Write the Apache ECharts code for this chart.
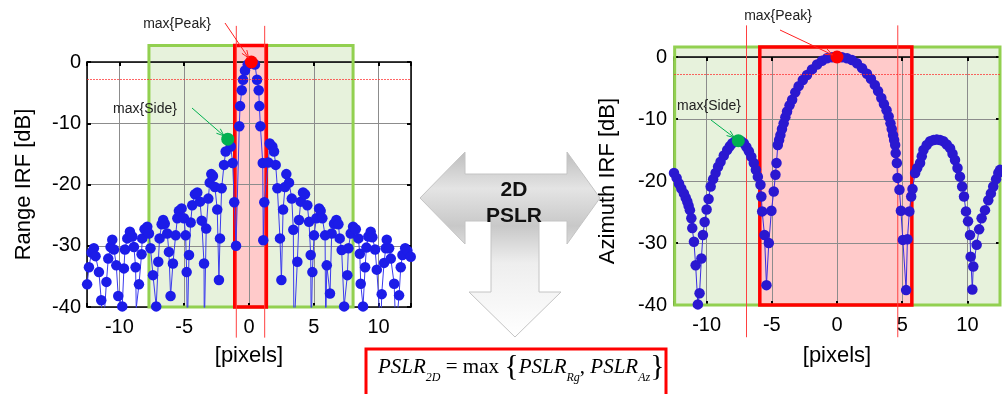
<!DOCTYPE html>
<html>
<head>
<meta charset="utf-8" />
<title>2D PSLR</title>
<script src="https://cdn.jsdelivr.net/npm/echarts@6/dist/echarts.min.js"></script>
<style>
    html, body { margin: 0; padding: 0; background: #ffffff; }
    #chart { width: 1002px; height: 394px; }
</style>
</head>
<body>
<div id="chart"></div>
<script type="text/javascript">
    // ---- range cut (left plot) ----
    var rangeX = [-12.49, -12.35, -12.15, -11.97, -11.84, -11.58, -11.4, -11.25, -11.0, -10.86, -10.68, -10.55, -10.42,
        -10.24, -10.09, -9.78, -9.65, -9.57, -9.39, -9.19, -9.0, -8.88, -8.75, -8.7, -8.49, -8.29, -8.24, -8.06,
        -7.85, -7.72, -7.6, -7.41, -7.16, -7.0, -6.9, -6.74, -6.62, -6.5, -6.31, -6.18, -6.05, -5.87, -5.66, -5.53,
        -5.41, -5.2, -5.02, -4.89, -4.81, -4.76, -4.63, -4.5, -4.38, -4.17, -3.99, -3.78, -3.65, -3.47, -3.45, -3.3,
        -3.14, -3.03, -2.91, -2.78, -2.63, -2.45, -2.32, -2.24, -2.11, -1.93, -1.8, -1.64, -1.41, -1.26, -1.14, -1.0,
        -0.75, -0.69, -0.56, -0.46, -0.31, -0.1, 0.15, 0.46, 0.62, 0.75, 0.8, 0.88, 1.06, 1.1, 1.18,
        1.49, 1.6, 1.8, 1.93, 2.06, 2.19, 2.39, 2.5, 2.63, 2.78, 2.88, 3.09, 3.3, 3.42, 3.47, 3.73, 3.86, 3.99,
        4.17, 4.32, 4.5, 4.63, 4.76, 4.8, 4.89, 5.02, 5.2, 5.41, 5.53, 5.66, 5.87, 5.92, 6.0, 6.25, 6.38, 6.56,
        6.74, 6.9, 7.0, 7.15, 7.34, 7.59, 7.67, 7.85, 8.03, 8.24, 8.44, 8.55, 8.62, 8.8, 8.96, 9.06, 9.21, 9.39,
        9.52, 9.73, 9.86, 10.17, 10.24, 10.42, 10.55, 10.63, 10.81, 10.94, 11.2, 11.33, 11.58, 11.71, 11.84, 12.05,
        12.22, 12.48];
    var rangeY = [-36.3, -33.5, -31.1, -30.4, -31.7, -34.3, -38.9, -44, -35.9, -32.1, -30.2, -29.0, -30.6,
        -33.2, -38.2, -39.9, -33.7, -30.6, -28.8, -27.7, -28.5, -30.2, -33.5, -40.2, -36.3, -31.4, -28.8, -27.3,
        -26.9, -28.0, -30.4, -34.8, -39.9, -32.6, -28.8, -26.5, -25.8, -26.4, -28.0, -31.0, -38.2, -32.9, -28.3, -25.5,
        -24.3, -23.9, -25.5, -28.3, -34.3, -44, -31.5, -26.2, -23.4, -21.6, -21.3, -22.8, -25.9, -32.9, -44, -27.2,
        -22.3, -19.7, -18.3, -18.6, -20.4, -24.1, -35.6, -28.8, -20.6, -16.8, -14.6, -12.6, -13.8, -16.5, -22.9, -30.0,
        -10.5, -7.2, -4.6, -2.9, -1.4, -0.4, 0, -0.4, -2.9, -4.6, -7.2, -10.5, -16.5, -29.1, -22.9,
        -16.4, -13.3, -13.8, -14.6, -16.8, -20.6, -28.8, -35.6, -24.1, -20.4, -18.3, -19.7, -22.3, -27.4, -44, -32.6, -25.8, -22.8,
        -21.3, -21.6, -23.4, -26.1, -31.5, -44, -34.3, -28.3, -25.5, -23.9, -24.3, -25.5, -28.3, -44, -33.2, -37.8, -28.0, -26.4,
        -25.8, -26.5, -28.8, -30.7, -39.9, -34.8, -30.4, -28.0, -26.9, -27.3, -28.8, -31.3, -36.2, -39.9, -33.5, -30.3, -28.5, -27.7,
        -28.6, -30.6, -33.9, -44, -37.9, -32.8, -30.4, -29.0, -30.4, -32.1, -36.2, -44, -38.1, -33.5, -31.5, -30.4,
        -30.8, -31.8];

    // ---- azimuth cut (right plot) ----
    var azX = [-12.5, -12.3, -12.12, -11.94, -11.74, -11.6, -11.48, -11.38, -11.28, -11.17, -11.1, -10.97, -10.84,
        -10.67, -10.54, -10.4, -10.28, -10.15, -10.0, -9.85, -9.69, -9.5, -9.31, -9.12, -8.93, -8.68, -8.42, -8.22,
        -8.03, -7.8, -7.57, -7.35, -7.14, -6.95, -6.76, -6.57, -6.38, -6.22, -6.07, -5.87, -5.8, -5.74, -5.56, -5.41,
        -5.23, -5.03, -4.85, -4.72, -4.64, -4.54, -4.44, -4.34, -4.22, -4.09, -3.96, -3.83, -3.64, -3.44, -3.2, -2.94,
        -2.62, -2.3, -1.92, -1.53, -1.15, -0.77, -0.38, 0, 0.38, 0.77, 1.15, 1.53, 1.92, 2.3, 2.6, 2.9, 3.15, 3.4,
        3.6, 3.8, 3.96, 4.1, 4.2, 4.3, 4.38, 4.46, 4.5, 4.59, 4.64, 4.79, 4.9, 5.05, 5.3, 5.4, 5.55, 5.69, 5.79, 5.99,
        6.15, 6.37, 6.5, 6.63, 6.88, 7.14, 7.4, 7.65, 7.9, 8.16, 8.42, 8.67, 8.86, 9.05, 9.24, 9.43, 9.6, 9.74, 9.89,
        10.05, 10.2, 10.25, 10.38, 10.45, 10.71, 10.9, 11.09, 11.35, 11.6, 11.8, 11.98, 12.2, 12.37, 12.5];
    var azY = [-18.7, -19.5, -20.4, -21.2, -22.0, -22.7, -23.3, -24.0, -24.7, -26.0, -27.6, -29.8, -33.6,
        -39.9, -38.1, -32.5, -28.7, -26.6, -24.6, -22.9, -20.9, -19.7, -18.7, -17.7, -16.9, -15.9, -15.0, -14.4,
        -13.9, -13.6, -13.5, -13.6, -13.9, -14.5, -15.2, -16.1, -17.1, -18.2, -19.3, -20.6, -22.5, -24.9, -28.7, -36.8,
        -30.0, -24.8, -21.7, -19.0, -17.1, -14.2, -13.4, -12.6, -11.6, -10.7, -9.7, -8.8, -7.8, -6.9, -5.7, -4.7,
        -3.7, -2.9, -2.0, -1.2, -0.6, -0.2, -0.05, 0, -0.05, -0.2, -0.5, -1.0, -1.8, -2.7, -3.5, -4.5, -5.5, -6.6,
        -7.6, -8.6, -9.6, -10.7, -11.6, -12.6, -13.4, -14.2, -15.5, -17.1, -19.5, -21.4, -24.8, -29.5, -37.6, -29.4, -24.9, -22.5, -21.3, -18.7,
        -17.9, -17.1, -16.0, -15.0, -14.2, -13.6, -13.4, -13.3, -13.4, -13.6, -14.1, -14.7, -15.6, -16.6, -17.9, -19.3, -20.9, -22.5, -24.9,
        -26.5, -28.7, -32.2, -37.5, -33.8, -30.3, -27.8, -26.0, -24.7, -23.1, -22.0, -20.9, -19.7, -18.7, -18.2];

    // markers and regions (data units)
    var rangePeak = [0.18, 0];
    var rangeSide = [-1.64, -12.6];
    var rangeSideZone = [-7.72, 8.03];
    var rangeMainZone = [-1.1, 1.34];
    var rangeZoneTop = 2.7;
    var rangeCuts = [-0.98, 1.21];
    var rangeCutSpan = [5.9, -45];

    var azPeak = [0, 0];
    var azSide = [-7.57, -13.5];
    var azSideZone = [-12.45, 12.5];
    var azMainZone = [-5.92, 5.74];
    var azZoneTop = 1.6;
    var azCuts = [-6.94, 4.66];
    var azCutSpan = [5.1, -45.2];

    var halfPower = -2.8;
    var xTicks = [-10, -5, 0, 5, 10];

    var SANS = "'Liberation Sans', Arial, sans-serif";
    var SERIF = "'Liberation Serif', 'Times New Roman', serif";

    function zip(xs, ys) {
        var out = [];
        for (var i = 0; i < xs.length; i++) out.push([xs[i], ys[i]]);
        return out;
    }

    function xAxisFor(grid, pos, gap) {
        var main = pos === 'bottom';
        return {
            type: 'value', gridIndex: grid, position: pos, min: -12.5, max: 12.5, splitNumber: 5,
            axisLine: {show: true, onZero: false, lineStyle: {color: '#000', width: 1.5}},
            axisTick: {show: true, inside: true, length: 4, lineStyle: {color: '#000', width: 2}},
            axisLabel: {
                show: main, color: '#000', fontSize: 20, fontFamily: SANS, margin: 10,
                formatter: function (v) { return xTicks.indexOf(v) >= 0 ? String(v) : ''; }
            },
            splitLine: {show: main, lineStyle: {color: '#8c8c8c', width: 1}},
            name: main ? '[pixels]' : '', nameLocation: 'middle', nameGap: gap,
            nameTextStyle: {color: '#000', fontSize: 22, fontFamily: SANS}
        };
    }

    function yAxisFor(grid, pos, name, gap, margin) {
        var main = pos === 'left';
        return {
            type: 'value', gridIndex: grid, position: pos, min: -40, max: 0, interval: 10,
            axisLine: {show: true, onZero: false, lineStyle: {color: '#000', width: 1.5}},
            axisTick: {show: true, inside: true, length: 4, lineStyle: {color: '#000', width: 2}},
            axisLabel: {show: main, color: '#000', fontSize: 20, fontFamily: SANS, margin: margin},
            splitLine: {show: main, lineStyle: {color: '#8c8c8c', width: 1}},
            name: main ? name : '', nameLocation: 'middle', nameGap: gap, nameRotate: 90,
            nameTextStyle: {color: '#000', fontSize: 22, fontFamily: SANS}
        };
    }

    function zoneSeries(ax, sideZone, mainZone, top, filled) {
        return {
            type: 'custom', xAxisIndex: ax, yAxisIndex: ax, z: filled ? -1 : 1, silent: true, clip: false,
            encode: {x: [0, 1], y: [2, 3]},
            data: [[sideZone[0], sideZone[1], -40, top], [mainZone[0], mainZone[1], -40, top]],
            renderItem: function (params, api) {
                var a = api.coord([api.value(0), api.value(3)]);
                var b = api.coord([api.value(1), api.value(2)]);
                var green = params.dataIndex === 0;
                var style = filled
                    ? {fill: green ? '#e7f2dc' : '#ffcaca'}
                    : {fill: 'none', stroke: green ? '#92d050' : '#ff0000', lineWidth: green ? 3 : 3.5};
                return {type: 'rect', shape: {x: a[0], y: a[1], width: b[0] - a[0], height: b[1] - a[1]}, style: style};
            }
        };
    }

    function cutSeries(ax, cuts, span) {
        return {
            type: 'custom', xAxisIndex: ax, yAxisIndex: ax, z: 1, silent: true, clip: false,
            encode: {x: 0, y: [1, 2]},
            data: cuts.map(function (c) { return [c, span[0], span[1]]; }),
            renderItem: function (params, api) {
                var a = api.coord([api.value(0), api.value(1)]);
                var b = api.coord([api.value(0), api.value(2)]);
                return {type: 'line', shape: {x1: a[0], y1: a[1], x2: b[0], y2: b[1]},
                    style: {stroke: '#ff4040', lineWidth: 1}};
            }
        };
    }

    function curveSeries(ax, xs, ys, dot, line) {
        return {
            type: 'line', xAxisIndex: ax, yAxisIndex: ax, z: 2, silent: true,
            data: zip(xs, ys), symbol: 'circle', symbolSize: 10.5, showSymbol: true, showAllSymbol: true,
            itemStyle: {color: dot}, lineStyle: {color: line, width: 1},
            markLine: {
                silent: true, symbol: 'none', label: {show: false},
                lineStyle: {color: '#ff2a2a', type: [2, 1], width: 0.8, opacity: 0.9},
                data: [{yAxis: halfPower}]
            }
        };
    }

    function markerSeries(ax, pt, color) {
        return {
            type: 'scatter', xAxisIndex: ax, yAxisIndex: ax, z: 5, silent: true,
            data: [pt], symbolSize: 13, itemStyle: {color: color, opacity: 1}
        };
    }

    var myChart = echarts.init(document.getElementById('chart'), null, {renderer: 'canvas'});
    var option = {
        animation: false,
        backgroundColor: '#ffffff',
        grid: [
            {left: 87, top: 62, width: 324, height: 245, containLabel: false, outerBoundsMode: 'none'},
            {left: 674, top: 57, width: 326, height: 248, containLabel: false, outerBoundsMode: 'none'}
        ],
        xAxis: [xAxisFor(0, 'bottom', 38), xAxisFor(1, 'bottom', 40), xAxisFor(0, 'top', 0), xAxisFor(1, 'top', 0)],
        yAxis: [yAxisFor(0, 'left', 'Range IRF [dB]', 52, 6), yAxisFor(1, 'left', 'Azimuth IRF [dB]', 55, 7),
            yAxisFor(0, 'right', '', 0, 0), yAxisFor(1, 'right', '', 0, 0)],
        series: [
            zoneSeries(0, rangeSideZone, rangeMainZone, rangeZoneTop, true),
            zoneSeries(0, rangeSideZone, rangeMainZone, rangeZoneTop, false),
            cutSeries(0, rangeCuts, rangeCutSpan),
            curveSeries(0, rangeX, rangeY, '#1c1ce8', '#3a3aee'),
            markerSeries(0, rangeSide, '#00b050'),
            markerSeries(0, rangePeak, '#ff0000'),
            zoneSeries(1, azSideZone, azMainZone, azZoneTop, true),
            zoneSeries(1, azSideZone, azMainZone, azZoneTop, false),
            cutSeries(1, azCuts, azCutSpan),
            curveSeries(1, azX, azY, '#2a18d0', '#3a2ae0'),
            markerSeries(1, azSide, '#00b050'),
            markerSeries(1, azPeak, '#ff0000')
        ]
    };
    myChart.setOption(option);

    // annotations: arrows from the label to the marker, using the chart's own scales
    function arrow(x1, y1, target, color) {
        var ang = Math.atan2(target[1] - y1, target[0] - x1);
        var x2 = target[0] - 5 * Math.cos(ang), y2 = target[1] - 5 * Math.sin(ang);
        var h = 8, w = 0.38;
        return [
            {type: 'line', silent: true, z: 20, shape: {x1: x1, y1: y1, x2: x2, y2: y2}, style: {stroke: color, lineWidth: 1}},
            {type: 'polyline', silent: true, z: 20, shape: {points: [
                [x2 - h * Math.cos(ang - w), y2 - h * Math.sin(ang - w)], [x2, y2],
                [x2 - h * Math.cos(ang + w), y2 - h * Math.sin(ang + w)]]},
                style: {stroke: color, lineWidth: 1, fill: null}}
        ];
    }
    function label(x, y, txt) {
        return {type: 'text', silent: true, z: 20, x: x, y: y,
            style: {text: txt, fontSize: 14, fontFamily: SANS, fill: '#222', align: 'center', verticalAlign: 'middle'}};
    }

    var pL = myChart.convertToPixel({gridIndex: 0}, rangePeak);
    var sL = myChart.convertToPixel({gridIndex: 0}, rangeSide);
    var pR = myChart.convertToPixel({gridIndex: 1}, azPeak);
    var sR = myChart.convertToPixel({gridIndex: 1}, azSide);

    var elements = [];
    elements.push(label(177, 24, 'max{Peak}'), label(145, 109, 'max{Side}'),
        label(778, 16, 'max{Peak}'), label(709, 106, 'max{Side}'));
    elements = elements.concat(arrow(225, 23, pL, '#ff2020'), arrow(192, 108, sL, '#00b050'),
        arrow(780, 30, pR, '#ff2020'), arrow(711, 120, sR, '#00b050'));

    // central three-way arrow
    elements.push({
        type: 'polygon', silent: true, z: 10,
        shape: {points: [[420, 198], [465, 152], [465, 174], [567, 174], [567, 152], [600, 198], [567, 244], [567, 221],
            [539, 221], [539, 292], [561, 292], [515, 337], [469, 292], [491, 292], [491, 221], [465, 221], [465, 244]]},
        style: {
            fill: new echarts.graphic.LinearGradient(0, 0, 0, 1, [
                {offset: 0, color: '#bdbdbd'}, {offset: 0.2, color: '#e4e4e4'}, {offset: 0.4, color: '#c8c8c8'},
                {offset: 0.6, color: '#eeeeee'}, {offset: 1, color: '#ffffff'}]),
            stroke: '#c4c4c4', lineWidth: 1
        }
    });
    elements.push({type: 'text', silent: true, z: 11, x: 514, y: 190,
        style: {text: '2D', fontSize: 21, fontWeight: 'bold', fontFamily: SANS, fill: '#111', align: 'center', verticalAlign: 'middle'}});
    elements.push({type: 'text', silent: true, z: 11, x: 514, y: 216,
        style: {text: 'PSLR', fontSize: 21, fontWeight: 'bold', fontFamily: SANS, fill: '#111', align: 'center', verticalAlign: 'middle'}});

    // formula box
    elements.push({type: 'rect', silent: true, z: 10, shape: {x: 366, y: 349, width: 300, height: 60},
        style: {fill: '#ffffff', stroke: '#ff0000', lineWidth: 3}});
    elements.push({
        type: 'text', silent: true, z: 11, x: 378, y: 367,
        style: {
            text: '{i|PSLR}{s|2D}{n| = max }{' + '{i|PSLR}{s|Rg}{n|, }{i|PSLR}{s|Az}}',
            fontSize: 30, fontFamily: SERIF, fill: '#000', lineHeight: 34, align: 'left', verticalAlign: 'middle',
            rich: {
                i: {fontSize: 21, fontStyle: 'italic', fontFamily: SERIF, lineHeight: 34},
                n: {fontSize: 21, fontFamily: SERIF, lineHeight: 34},
                s: {fontSize: 12, fontStyle: 'italic', fontFamily: SERIF, lineHeight: 12, verticalAlign: 'bottom'}
            }
        }
    });

    myChart.setOption({graphic: {elements: elements}});
</script>
</body>
</html>
